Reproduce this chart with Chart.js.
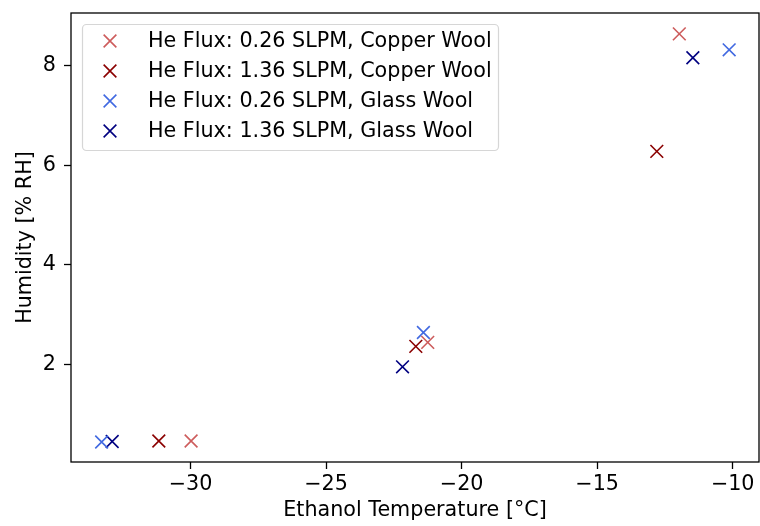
<!DOCTYPE html>
<html>
<head>
<meta charset="utf-8">
<script src="https://cdn.jsdelivr.net/npm/chart.js@4"></script>
<style>
html,body{margin:0;padding:0;background:#fff;}
#wrap{width:760px;height:526px;position:relative;}
</style>
</head>
<body>
<div id="wrap"><canvas id="c" width="760" height="526"></canvas></div>
<script>
// ---- data ----
const seriesLabels = [
  "He Flux: 0.26 SLPM, Copper Wool",
  "He Flux: 1.36 SLPM, Copper Wool",
  "He Flux: 0.26 SLPM, Glass Wool",
  "He Flux: 1.36 SLPM, Glass Wool"
];
const seriesColors = ["#CD5C5C", "#8B0000", "#4169E1", "#000080"];
const cu026Temp = [-11.97, -21.25, -29.98];
const cu026Hum  = [8.64, 2.44, 0.46];
const cu136Temp = [-12.80, -21.69, -31.17];
const cu136Hum  = [6.28, 2.36, 0.46];
const gl026Temp = [-10.13, -21.41, -33.28];
const gl026Hum  = [8.32, 2.64, 0.44];
const gl136Temp = [-11.47, -22.18, -32.89];
const gl136Hum  = [8.16, 1.95, 0.45];
const xTicks = [-30, -25, -20, -15, -10];
const yTicks = [2, 4, 6, 8];
const xTitle = "Ethanol Temperature [°C]";
const yTitle = "Humidity [% RH]";

const temps = [cu026Temp, cu136Temp, gl026Temp, gl136Temp];
const hums = [cu026Hum, cu136Hum, gl026Hum, gl136Hum];

const FONT = "'DejaVu Sans', sans-serif";
const FS = 20.7;
const MARK_R = 9;
const MARK_W = 1.6;

const datasets = seriesLabels.map((lab, i) => ({
  label: lab,
  data: temps[i].map((t, k) => ({x: t, y: hums[i][k]})),
  pointStyle: 'crossRot',
  pointRadius: MARK_R,
  pointHoverRadius: MARK_R,
  pointBorderWidth: MARK_W,
  borderColor: seriesColors[i],
  backgroundColor: seriesColors[i],
  showLine: false,
  clip: false
}));

function drawX(ctx, x, y, r, color) {
  const d = r * Math.SQRT1_2;
  ctx.save();
  ctx.strokeStyle = color;
  ctx.lineWidth = MARK_W;
  ctx.beginPath();
  ctx.moveTo(x - d, y - d); ctx.lineTo(x + d, y + d);
  ctx.moveTo(x - d, y + d); ctx.lineTo(x + d, y - d);
  ctx.stroke();
  ctx.restore();
}

const framePlugin = {
  id: 'frame',
  afterDatasetsDraw(chart) {
    const {ctx, chartArea: a} = chart;
    ctx.save();
    ctx.strokeStyle = '#000';
    ctx.lineWidth = 1.3;
    ctx.strokeRect(a.left, a.top, a.right - a.left, a.bottom - a.top);
    ctx.restore();
  }
};

const legendPlugin = {
  id: 'innerLegend',
  afterDraw(chart) {
    const ctx = chart.ctx;
    const bx = 82.5, by = 24.5, bw = 416, bh = 126, rr = 4;
    ctx.save();
    ctx.beginPath();
    ctx.moveTo(bx + rr, by);
    ctx.lineTo(bx + bw - rr, by);
    ctx.arcTo(bx + bw, by, bx + bw, by + rr, rr);
    ctx.lineTo(bx + bw, by + bh - rr);
    ctx.arcTo(bx + bw, by + bh, bx + bw - rr, by + bh, rr);
    ctx.lineTo(bx + rr, by + bh);
    ctx.arcTo(bx, by + bh, bx, by + bh - rr, rr);
    ctx.lineTo(bx, by + rr);
    ctx.arcTo(bx, by, bx + rr, by, rr);
    ctx.closePath();
    ctx.fillStyle = 'rgba(255,255,255,0.8)';
    ctx.fill();
    ctx.strokeStyle = '#d6d6d6';
    ctx.lineWidth = 1.2;
    ctx.stroke();
    ctx.font = FS + "px " + FONT;
    ctx.textBaseline = 'middle';
    ctx.textAlign = 'left';
    ctx.fillStyle = '#000';
    chart.data.datasets.forEach((ds, i) => {
      const y = 41 + i * 30;
      drawX(ctx, 110, y, MARK_R, ds.borderColor);
      ctx.fillText(ds.label, 148, y + 1);
    });
    ctx.restore();
  }
};

const minusFmt = v => String(v).replace('-', '\u2212');

new Chart(document.getElementById('c'), {
  type: 'scatter',
  data: {datasets},
  options: {
    responsive: false,
    animation: false,
    layout: {autoPadding: false, padding: {top: 13, right: 1, left: 0, bottom: 0}},
    plugins: {legend: {display: false}, tooltip: {enabled: false}},
    scales: {
      x: {
        type: 'linear',
        min: -34.41, max: -9.03,
        afterBuildTicks(s) { s.ticks = xTicks.map(v => ({value: v})); },
        afterFit(s) { s.height = 64; s.paddingLeft = 0; s.paddingRight = 0; },
        grid: {display: true, drawOnChartArea: false, drawTicks: true, tickLength: 7, tickColor: '#000', tickWidth: 1.3},
        border: {display: false},
        ticks: {color: '#000', font: {family: FONT, size: FS}, padding: 3, maxRotation: 0, callback: minusFmt},
        title: {display: true, text: xTitle, color: '#000', font: {family: FONT, size: FS, lineHeight: 1.2}, padding: {top: 0, bottom: 3}}
      },
      y: {
        type: 'linear',
        min: 0.037, max: 9.06,
        afterBuildTicks(s) { s.ticks = yTicks.map(v => ({value: v})); },
        afterFit(s) { s.width = 71; s.paddingTop = 0; s.paddingBottom = 0; },
        grid: {display: true, drawOnChartArea: false, drawTicks: true, tickLength: 7, tickColor: '#000', tickWidth: 1.3},
        border: {display: false},
        ticks: {color: '#000', font: {family: FONT, size: FS}, padding: 8, callback: minusFmt},
        title: {display: true, text: yTitle, color: '#000', font: {family: FONT, size: FS, lineHeight: 1.2}, padding: {top: 13, bottom: 0}}
      }
    }
  },
  plugins: [framePlugin, legendPlugin]
});
</script>
</body>
</html>
